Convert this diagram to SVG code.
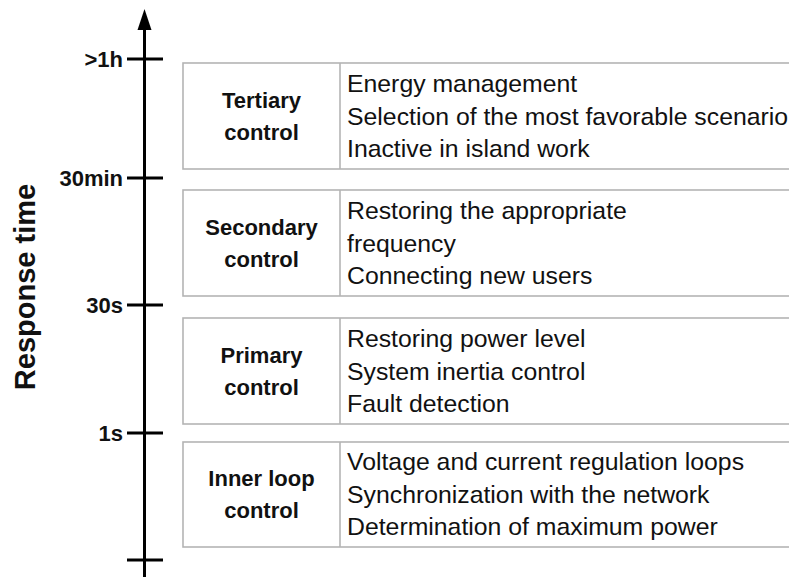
<svg xmlns="http://www.w3.org/2000/svg" width="789" height="577" viewBox="0 0 789 577">
<style>
.box{fill:#fff;stroke:#b4b4b4;stroke-width:1.6}
.div{stroke:#b4b4b4;stroke-width:1.6}
.ttl{font-family:"Liberation Sans",Arial,sans-serif;font-weight:bold;font-size:22px;fill:#111;text-anchor:middle}
.desc{font-family:"Liberation Sans",Arial,sans-serif;font-size:24.8px;fill:#111}
.tick{font-family:"Liberation Sans",Arial,sans-serif;font-weight:bold;font-size:22px;fill:#111;text-anchor:end}
.ax{stroke:#000;stroke-width:3;fill:none}
</style>
<rect width="789" height="577" fill="#fff"/>
<g id="axis">
<line class="ax" x1="144.5" y1="26" x2="144.5" y2="577"/>
<polygon points="144.5,9 137.5,30 151.5,30" fill="#000"/>
<line class="ax" x1="127" y1="59" x2="163" y2="59"/>
<line class="ax" x1="127" y1="178" x2="163" y2="178"/>
<line class="ax" x1="127" y1="305" x2="163" y2="305"/>
<line class="ax" x1="127" y1="433" x2="163" y2="433"/>
<line class="ax" x1="127" y1="560" x2="163" y2="560"/>
<text class="tick" x="123" y="67">&gt;1h</text>
<text class="tick" x="123" y="186">30min</text>
<text class="tick" x="123" y="313">30s</text>
<text class="tick" x="123" y="441">1s</text>
<text font-family="Liberation Sans, Arial, sans-serif" font-weight="bold" font-size="29" fill="#111" text-anchor="middle" transform="translate(35,287) rotate(-90)">Response time</text>
</g>
<g id="tertiary">
<rect class="box" x="183" y="63" width="620" height="106"/>
<line class="div" x1="340" y1="63" x2="340" y2="169"/>
<text class="ttl" x="261.5" y="108">Tertiary</text>
<text class="ttl" x="261.5" y="140">control</text>
<text class="desc" x="347" y="92">Energy management</text>
<text class="desc" x="347" y="124.5">Selection of the most favorable scenario</text>
<text class="desc" x="347" y="157">Inactive in island work</text>
</g>
<g id="secondary">
<rect class="box" x="183" y="190" width="620" height="106"/>
<line class="div" x1="340" y1="190" x2="340" y2="296"/>
<text class="ttl" x="261.5" y="235">Secondary</text>
<text class="ttl" x="261.5" y="267">control</text>
<text class="desc" x="347" y="219">Restoring the appropriate</text>
<text class="desc" x="347" y="251.5">frequency</text>
<text class="desc" x="347" y="284">Connecting new users</text>
</g>
<g id="primary">
<rect class="box" x="183" y="318" width="620" height="106"/>
<line class="div" x1="340" y1="318" x2="340" y2="424"/>
<text class="ttl" x="261.5" y="363">Primary</text>
<text class="ttl" x="261.5" y="395">control</text>
<text class="desc" x="347" y="347">Restoring power level</text>
<text class="desc" x="347" y="379.5">System inertia control</text>
<text class="desc" x="347" y="412">Fault detection</text>
</g>
<g id="inner">
<rect class="box" x="183" y="442" width="620" height="105"/>
<line class="div" x1="340" y1="442" x2="340" y2="547"/>
<text class="ttl" x="261.5" y="486">Inner loop</text>
<text class="ttl" x="261.5" y="518">control</text>
<text class="desc" x="347" y="470">Voltage and current regulation loops</text>
<text class="desc" x="347" y="502.5">Synchronization with the network</text>
<text class="desc" x="347" y="535">Determination of maximum power</text>
</g>
</svg>
